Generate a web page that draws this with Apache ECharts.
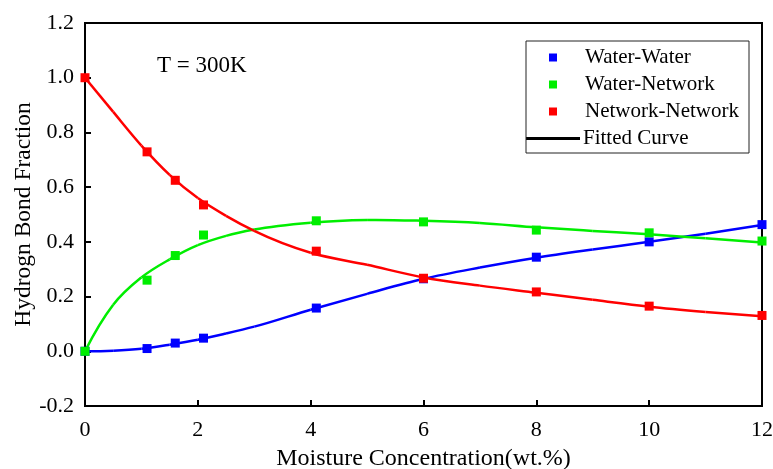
<!DOCTYPE html>
<html>
<head>
<meta charset="utf-8">
<script src="https://cdn.jsdelivr.net/npm/echarts@6/dist/echarts.min.js"></script>
<style>
  html, body { margin: 0; padding: 0; background: #fff; }
  #chart { width: 773px; height: 469px; }
</style>
</head>
<body>
<div id="chart"></div>
<script>
// measured points
var moisture = [0, 1.1, 1.6, 2.1, 4.1, 6, 8, 10, 12];
var waterWater = [0, 0.01, 0.03, 0.048, 0.158, 0.265, 0.344, 0.4, 0.463];
var waterNetwork = [0, 0.26, 0.35, 0.425, 0.477, 0.473, 0.443, 0.433, 0.403];
var networkNetwork = [1.0, 0.729, 0.625, 0.535, 0.366, 0.267, 0.217, 0.165, 0.131];

// fitted curves
var fitX = [0, 0.5, 1, 1.5, 2, 2.5, 3, 4, 5, 6, 7, 8, 9, 10, 11, 12];
var fitWW = [0, 0.002, 0.009, 0.024, 0.042, 0.065, 0.09, 0.152, 0.21, 0.265, 0.306, 0.342, 0.372, 0.4, 0.43, 0.462];
var fitWN = [0, 0.17, 0.27, 0.336, 0.388, 0.422, 0.445, 0.47, 0.48, 0.477, 0.469, 0.453, 0.44, 0.428, 0.413, 0.398];
var fitNN = [1.0, 0.875, 0.752, 0.645, 0.56, 0.495, 0.44, 0.36, 0.316, 0.27, 0.24, 0.214, 0.188, 0.163, 0.144, 0.128];

var xTicks = { min: 0, max: 12, step: 2 };
var yTicks = { min: -0.2, max: 1.2, step: 0.2 };

var BLUE = '#0000ff', GREEN = '#00ee00', RED = '#ff0000';
var FONT = '"Liberation Serif", "Times New Roman", serif';

function pairs(xs, ys) {
    var res = [];
    for (var i = 0; i < xs.length; i++) res.push([xs[i], ys[i]]);
    return res;
}

// slopes for a smooth curve through the read points (3-point estimate)
function slopes(xs, ys) {
    var n = xs.length, m = [];
    for (var i = 0; i < n; i++) {
        if (i === 0 || i === n - 1) {
            var a = i === 0 ? 0 : n - 3;
            var h0 = xs[a + 1] - xs[a], h1 = xs[a + 2] - xs[a + 1];
            var d0 = (ys[a + 1] - ys[a]) / h0, d1 = (ys[a + 2] - ys[a + 1]) / h1;
            m.push(i === 0 ? ((2 * h0 + h1) * d0 - h0 * d1) / (h0 + h1)
                           : ((2 * h1 + h0) * d1 - h1 * d0) / (h0 + h1));
        } else {
            var h0 = xs[i] - xs[i - 1], h1 = xs[i + 1] - xs[i];
            var d0 = (ys[i] - ys[i - 1]) / h0, d1 = (ys[i + 1] - ys[i]) / h1;
            m.push((h0 * d1 + h1 * d0) / (h0 + h1));
        }
    }
    return m;
}

function dots(name, ys, color) {
    return {
        name: name,
        type: 'scatter',
        symbol: 'rect',
        symbolSize: 9,
        itemStyle: { color: color, opacity: 1 },
        z: 5,
        data: pairs(moisture, ys)
    };
}

function curve(ys, color) {
    var m = slopes(fitX, ys);
    return {
        type: 'custom',
        silent: true,
        z: 3,
        data: [[fitX[0], ys[0]]],
        renderItem: function (params, api) {
            var children = [];
            for (var i = 0; i < fitX.length - 1; i++) {
                var h = fitX[i + 1] - fitX[i];
                var p0 = api.coord([fitX[i], ys[i]]);
                var p1 = api.coord([fitX[i + 1], ys[i + 1]]);
                var c0 = api.coord([fitX[i] + h / 3, ys[i] + m[i] * h / 3]);
                var c1 = api.coord([fitX[i + 1] - h / 3, ys[i + 1] - m[i + 1] * h / 3]);
                children.push({
                    type: 'bezierCurve',
                    shape: { x1: p0[0], y1: p0[1], cpx1: c0[0], cpy1: c0[1], cpx2: c1[0], cpy2: c1[1], x2: p1[0], y2: p1[1] },
                    style: { stroke: color, lineWidth: 2.5, fill: null }
                });
            }
            return { type: 'group', children: children };
        }
    };
}

var chart = echarts.init(document.getElementById('chart'));

var option = {
    animation: false,
    backgroundColor: '#fff',
    grid: {
        left: 85, right: 11, top: 23, bottom: 63,
        outerBoundsMode: 'none',
        containLabel: false,
        show: true, borderColor: '#000', borderWidth: 2
    },
    xAxis: {
        type: 'value',
        min: xTicks.min, max: xTicks.max, interval: xTicks.step,
        name: 'Moisture Concentration(wt.%)',
        nameLocation: 'middle',
        nameGap: 41,
        nameTextStyle: { fontFamily: FONT, fontSize: 24, color: '#000' },
        axisLine: { onZero: false, lineStyle: { color: '#000', width: 2 } },
        axisTick: { inside: true, length: 6, lineStyle: { width: 2 } },
        axisLabel: { fontFamily: FONT, fontSize: 22, color: '#000', margin: 13 },
        splitLine: { show: false }
    },
    yAxis: {
        type: 'value',
        min: yTicks.min, max: yTicks.max, interval: yTicks.step,
        name: 'Hydrogn Bond Fraction',
        nameLocation: 'middle',
        nameGap: 49,
        nameMoveOverlap: false,
        nameTextStyle: { fontFamily: FONT, fontSize: 23.5, color: '#000' },
        axisLine: { onZero: false, lineStyle: { color: '#000', width: 2 } },
        axisTick: { inside: true, length: 6, lineStyle: { width: 2 } },
        axisLabel: {
            fontFamily: FONT, fontSize: 22, color: '#000', margin: 11,
            formatter: function (v) { return v.toFixed(1); }
        },
        splitLine: { show: false }
    },
    legend: [{
        orient: 'vertical',
        left: 549, top: 47,
        padding: 0,
        itemWidth: 8, itemHeight: 8,
        itemGap: 6,
        icon: 'rect',
        textStyle: { fontFamily: FONT, fontSize: 21, color: '#000', padding: [0, 0, 0, 23], lineHeight: 21 },
        data: ['Water-Water', 'Water-Network', 'Network-Network']
    }, {
        left: 526, top: 128,
        padding: 0,
        itemWidth: 54, itemHeight: 3,
        icon: 'rect',
        textStyle: { fontFamily: FONT, fontSize: 21, color: '#000', padding: [0, 0, 0, -2], lineHeight: 21 },
        data: ['Fitted Curve']
    }],
    graphic: [{
        type: 'rect',
        shape: { x: 526, y: 41, width: 223, height: 112 },
        style: { fill: null, stroke: '#222', lineWidth: 1 },
        z: 10
    }, {
        type: 'text',
        left: 157, top: 54,
        style: { text: 'T = 300K', font: '23px ' + FONT, fill: '#000' }
    }],
    series: [
        curve(fitWW, BLUE),
        curve(fitWN, GREEN),
        curve(fitNN, RED),
        dots('Water-Water', waterWater, BLUE),
        dots('Water-Network', waterNetwork, GREEN),
        dots('Network-Network', networkNetwork, RED),
        { name: 'Fitted Curve', type: 'line', data: [], itemStyle: { color: '#000' }, lineStyle: { color: '#000' } }
    ]
};

chart.setOption(option);
</script>
</body>
</html>
